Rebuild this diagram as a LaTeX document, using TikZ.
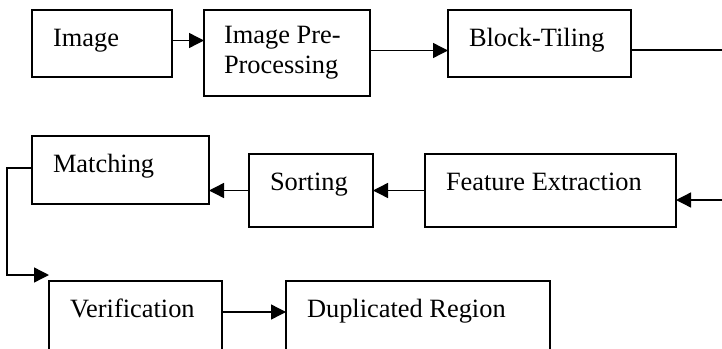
\documentclass[tikz,border=0pt]{standalone}
\usepackage{fontspec}
\setmainfont{Liberation Serif}
\usetikzlibrary{arrows.meta}

\tikzset{
    stage/.style={draw, line width=1pt, anchor=north west, align=left,
        inner xsep=10.5pt, inner ysep=0pt, outer sep=0pt,
        font=\fontsize{13.2}{15}\selectfont,
        execute at begin node={\spaceskip=0pt\xspaceskip=0pt\relax}},
    flow/.style={line width=0.7pt, -{Triangle[length=7.5pt,width=7.5pt]}},
    plain/.style={line width=0.7pt}
}

\begin{document}
\begin{tikzpicture}[x=0.5pt, y=-0.5pt]
    % Page size
    \useasboundingbox (0,0) rectangle (722,348);
    \clip (0,0) rectangle (722,348);

    % First row
    \node[stage, minimum width=70pt, text width=49pt, text height=18pt, text depth=15.5pt]
        (image) at (32,10) {Image};
    \node[stage, minimum width=83pt, minimum height=43pt, text width=63pt, inner xsep=10pt]
        (preproc) at (204,10) {Image Pre-\\Processing};
    \node[stage, minimum width=91.5pt, text width=70.5pt, text height=18pt, text depth=15.5pt]
        (tiling) at (448,10) {Block-Tiling};

    % Second row
    \node[stage, minimum width=125.5pt, text width=104.5pt, text height=18pt, text depth=18.5pt]
        (feature) at (425,154) {Feature Extraction};
    \node[stage, minimum width=62pt, text width=41pt, text height=18pt, text depth=18.5pt]
        (sorting) at (249,154) {Sorting};
    \node[stage, minimum width=88.5pt, text width=67.5pt, text height=18pt, text depth=16pt]
        (matching) at (32,136) {Matching};

    % Third row (cut at the bottom edge)
    \node[stage, minimum width=86.5pt, text width=65.5pt, text height=18pt, text depth=42pt]
        (verify) at (49,281) {Verification};
    \node[stage, minimum width=132pt, text width=111pt, text height=18pt, text depth=42pt]
        (dupreg) at (286,281) {Duplicated Region};

    % Free ends at the right edge
    \coordinate (tilingout) at (722,50);
    \coordinate (featurein) at (722,200);

    % Connectors
    \draw[flow] ([yshift=1.5pt]image.east) -- ([yshift=1.5pt]image.east -| preproc.west);
    \draw[flow] ([yshift=-3.5pt]tiling.west -| preproc.east) -- ([yshift=-3.5pt]tiling.west);
    \draw[plain] (tilingout -| tiling.east) -- (tilingout);
    \draw[flow] (featurein) -- (featurein -| feature.east);
    \draw[flow] (feature.west) -- (sorting.east);
    \draw[flow] (sorting.west) -- (sorting.west -| matching.east);
    \draw[flow] ([yshift=1pt]matching.west) -- ++(-12.5pt,0) |- ([yshift=3pt]verify.north west);
    \draw[flow] ([yshift=-15.5pt]verify.north east) -- ([yshift=-15.5pt]verify.north east -| dupreg.west);

\end{tikzpicture}
\end{document}
